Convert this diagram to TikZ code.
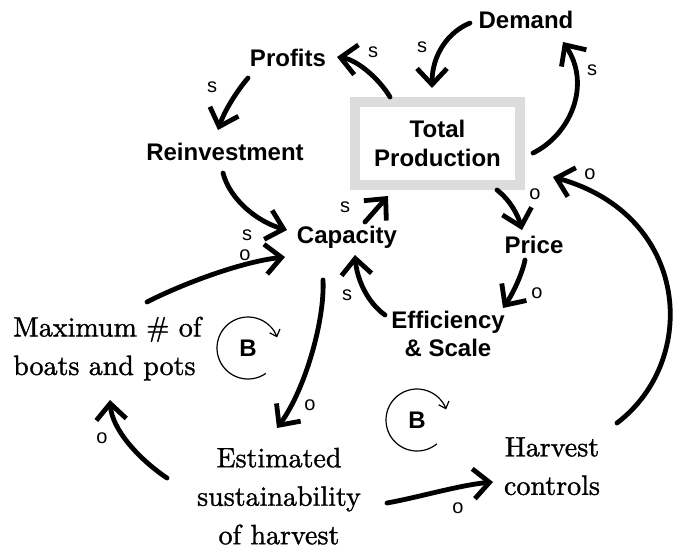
\documentclass[tikz,border=0pt]{standalone}
\usepackage{fontspec}
\newfontfamily\arialfont{Liberation Sans}
\newfontfamily\lmtenfont{lmroman10-regular}[Extension=.otf, FakeBold=1.2]
\usetikzlibrary{arrows.meta,calc}
\definecolor{boxgray}{RGB}{220,220,220}
\tikzset{
  lbl/.style={font=\arialfont\bfseries\fontsize{24}{28}\selectfont, align=center, inner sep=0pt},
  serif/.style={font=\lmtenfont\fontsize{28}{38.5}\selectfont, inner sep=0pt},
  sign/.style={font=\arialfont\fontsize{20}{20}\selectfont, inner sep=0pt},
  arr/.style={line width=4.8pt, line cap=round, -{Straight Barb[length=16pt,width=30pt]}},
  looparr/.style={line width=1.2pt, -{Straight Barb[length=6pt,width=11pt]}},
}
\begin{document}
\begin{tikzpicture}[x=1pt,y=-1pt]
\useasboundingbox (0,0) rectangle (675,552);
% nodes
\node[lbl] (demand) at (526,20) {Demand};
\node[lbl] (profits) at (288,58) {Profits};
\node[lbl, draw=boxgray, line width=10pt, minimum width=165pt, minimum height=83pt,
      font=\arialfont\bfseries\fontsize{24}{29}\selectfont] (tp) at (437.5,143.5) {Total\\Production};
\node[lbl] (reinv) at (225,152) {Reinvestment};
\node[lbl] (cap) at (347,237) {Capacity};
\node[lbl] (price) at (534,245) {Price};
\node[lbl] (eff) at (448,334) {Efficiency\\\& Scale};
\node[serif, align=left, anchor=north west] (maxn) at (13,316.5) {Maximum \# of\\boats and pots};
\node[serif, align=center, anchor=north] (est) at (279,447.6) {Estimated\\sustainability\\of harvest};
\node[serif, align=center, anchor=north] (harv) at (552,437) {Harvest\\controls};
\node[lbl] (b1) at (248,348) {B};
\node[lbl] (b2) at (417,420) {B};
% loop symbols
\draw[looparr] ([shift={(55:31)}]b1.center) arc[start angle=55, end angle=340, radius=31];
\draw[looparr] ([shift={(50:31)}]b2.center) arc[start angle=50, end angle=340, radius=31];
% connectors
\draw[arr] ($(tp)+(-47.5,-46.5)$) .. controls (380,80) and (358,60) .. ($(profits)+(49,-1)$);
\draw[arr] ($(profits)+(-40,20)$) .. controls (236,92) and (224,112) .. ($(reinv)+(-7,-22)$);
\draw[arr] ($(reinv)+(-2,21)$) .. controls (230,200) and (258,222) .. ($(cap)+(-60,-7)$);
\draw[arr] ($(maxn.north west)+(134,-14.5)$) .. controls (180,285) and (240,262) .. ($(cap)+(-62,20)$);
\draw[arr] ($(cap)+(18,-15)$) -- ($(tp)+(-49.5,52.5)$);
\draw[arr] ($(eff)+(-63,-19)$) .. controls (368,303) and (357,280) .. ($(cap)+(8,18)$);
\draw[arr] ($(tp)+(59.5,46.5)$) .. controls (510,200) and (518,215) .. ($(price)+(-12,-15)$);
\draw[arr] ($(price)+(-9,15)$) .. controls (522,275) and (512,295) .. ($(eff)+(55,-26)$);
\draw[arr] ($(demand)+(-56,3)$) .. controls (448,32) and (432,55) .. ($(tp)+(-5.5,-55.5)$);
\draw[arr] ($(tp)+(95.5,9.5)$) .. controls (570,135) and (592,85) .. ($(demand)+(37,22)$);
\draw[arr] ($(harv.north)+(65,-14)$) .. controls (700,360) and (690,215) .. ($(tp)+(115.5,33.5)$);
\draw[arr] ($(cap)+(-24,43)$) .. controls (325,320) and (305,390) .. ($(est.north)+(-2,-19.6)$);
\draw[arr] ($(est.north)+(-112,30.4)$) .. controls (140,460) and (112,430) .. ($(maxn.north west)+(97,83.5)$);
\draw[arr] ($(est.north)+(108,55.4)$) .. controls (420,497) and (460,485) .. ($(harv.north)+(-59,45)$);
% polarity labels
\node[sign] (l1) at (373,52) {s};
\node[sign] (l2) at (212,87) {s};
\node[sign] (l3) at (247,235) {s};
\node[sign] (l4) at (245,255) {o};
\node[sign] (l5) at (345,207) {s};
\node[sign] (l6) at (347,295) {s};
\node[sign] (l7) at (535,194) {o};
\node[sign] (l8) at (537,293) {o};
\node[sign] (l9) at (422,47) {s};
\node[sign] (l10) at (592,70) {s};
\node[sign] (l11) at (590,174) {o};
\node[sign] (l12) at (310,405) {o};
\node[sign] (l13) at (102,438) {o};
\node[sign] (l14) at (458,508) {o};
\end{tikzpicture}
\end{document}
